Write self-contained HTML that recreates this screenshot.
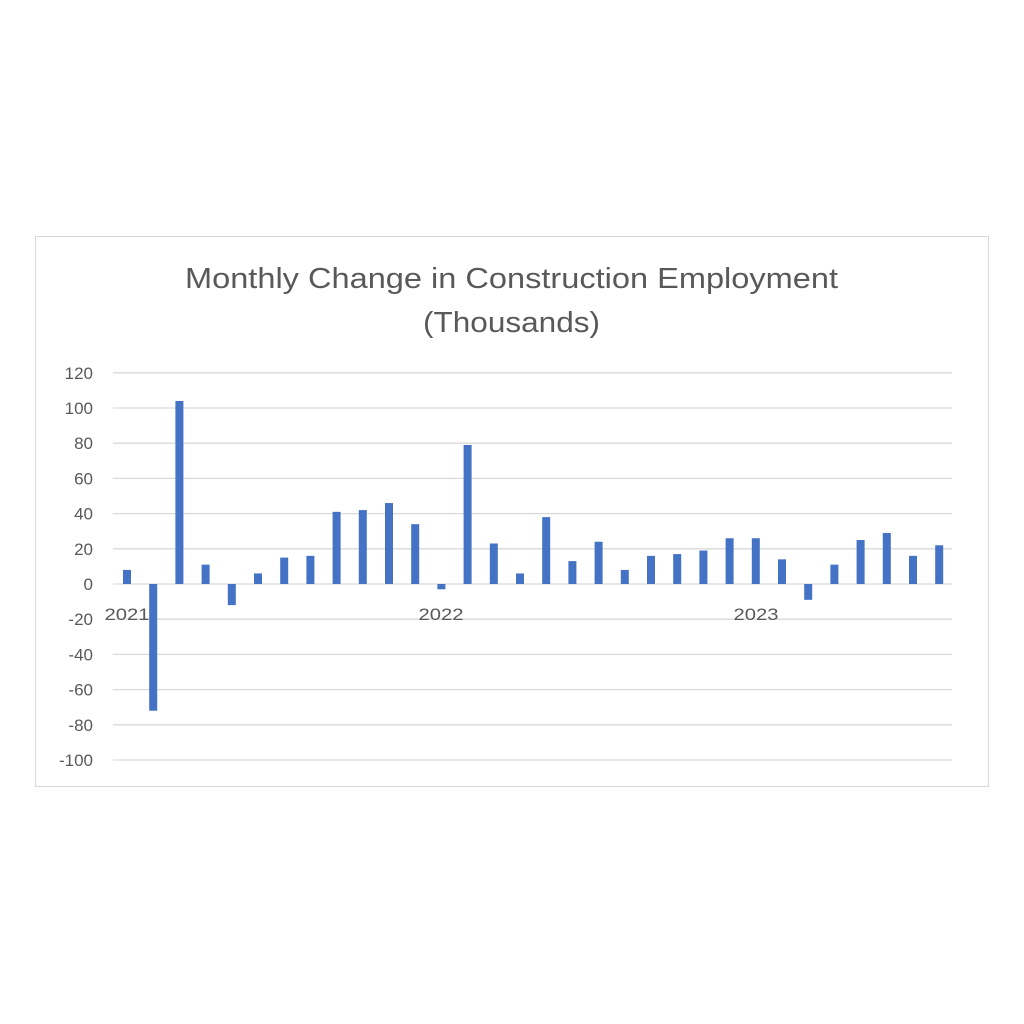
<!DOCTYPE html>
<html><head><meta charset="utf-8"><style>
html,body{margin:0;padding:0;background:#fff;}
svg{display:block;}
text{font-family:"Liberation Sans",sans-serif;fill:#595959;}
</style></head><body>
<svg width="1024" height="1024" viewBox="0 0 1024 1024" xmlns="http://www.w3.org/2000/svg">
<rect x="35.5" y="236.5" width="953" height="550" fill="#fff" stroke="#d9d9d9" stroke-width="1"/>
<text x="185" y="288" font-size="29" textLength="653" lengthAdjust="spacingAndGlyphs">Monthly Change in Construction Employment</text>
<text x="423" y="332" font-size="29" textLength="177" lengthAdjust="spacingAndGlyphs">(Thousands)</text>
<g id="grid" stroke="#d9d9d9" stroke-width="1.3"></g>
<g id="yl" font-size="17" text-anchor="end"></g>
<g id="bars" fill="#4472c4"></g>
<g font-size="17" text-anchor="middle">
<text x="127" y="620" textLength="45" lengthAdjust="spacingAndGlyphs">2021</text>
<text x="441" y="620" textLength="45" lengthAdjust="spacingAndGlyphs">2022</text>
<text x="756" y="620" textLength="45" lengthAdjust="spacingAndGlyphs">2023</text>
</g>
<script>
var g=document.getElementById('grid'),yl=document.getElementById('yl'),b=document.getElementById('bars');
var ns='http://www.w3.org/2000/svg';
function y(v){return 584-v*1.76;}
for(var v=120;v>=-100;v-=20){
var l=document.createElementNS(ns,'line');l.setAttribute('x1',113);l.setAttribute('x2',952);l.setAttribute('y1',y(v));l.setAttribute('y2',y(v));g.appendChild(l);
var t=document.createElementNS(ns,'text');t.setAttribute('x',93);t.setAttribute('y',y(v)+6);t.textContent=v;yl.appendChild(t);}
var d=[8,-72,104,11,-12,6,15,16,41,42,46,34,-3,79,23,6,38,13,24,8,16,17,19,26,26,14,-9,11,25,29,16,22];
d.forEach(function(v,i){var cx=127+i*26.2;var r=document.createElementNS(ns,'rect');r.setAttribute('x',cx-4);r.setAttribute('width',8);r.setAttribute('y',Math.min(y(v),584));r.setAttribute('height',Math.abs(v*1.76));b.appendChild(r);});
</script>
</svg>
</body></html>
